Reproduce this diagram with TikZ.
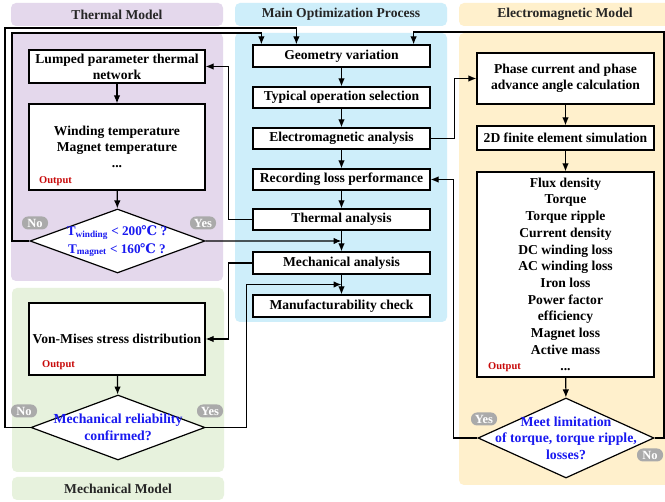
\documentclass[tikz,border=0pt]{standalone}
\usepackage{fontspec}
\setmainfont{Liberation Serif}
\newfontfamily\dejavu{DejaVu Serif}
\usetikzlibrary{shapes.geometric,arrows.meta,calc}
\definecolor{purpleP}{RGB}{228,216,236}
\definecolor{greenP}{RGB}{231,242,221}
\definecolor{blueP}{RGB}{206,238,250}
\definecolor{orangeP}{RGB}{255,240,204}
\definecolor{pillgray}{RGB}{170,170,170}
\definecolor{outred}{RGB}{200,10,10}
\definecolor{diablue}{RGB}{25,25,240}
\tikzset{
  panel/.style={rounded corners=5pt, draw=none},
  ttl/.style={font=\bfseries\fontsize{13.6}{15}\selectfont, text=black!85},
  box/.style={draw, fill=white, line width=1.2pt, align=center, inner sep=0pt,
    font=\bfseries\fontsize{13.6}{16}\selectfont, minimum width=177pt},
  dia/.style={draw, fill=white, line width=1.2pt, diamond, inner sep=0pt},
  diatext/.style={align=center, text=diablue, font=\bfseries\fontsize{13.8}{16.5}\selectfont},
  outlbl/.style={text=outred, font=\bfseries\fontsize{10.5}{11}\selectfont, anchor=west, inner sep=0pt},
  pill/.style={fill=pillgray, text=white, rounded corners=6pt, inner sep=0pt,
    minimum width=26pt, minimum height=13pt, font=\bfseries\fontsize{12.5}{12.5}\selectfont},
  arr/.style={line width=1.2pt, -{Latex[length=8pt,width=6.5pt]}},
  ln/.style={line width=1.2pt}
}
\begin{document}
\begin{tikzpicture}[x=1pt,y=-1pt]
\clip (0,0) rectangle (665,502);
\fill[white] (0,0) rectangle (665,502);
% panels
\fill[panel, purpleP] (11,3) rectangle (223,26);
\fill[panel, purpleP] (11,33) rectangle (223,281);
\fill[panel, greenP] (12,288) rectangle (224,472);
\fill[panel, greenP] (12,477) rectangle (224,500);
\fill[panel, blueP] (235,3) rectangle (447,26);
\fill[panel, blueP] (235,33) rectangle (447,322);
\fill[panel, orangeP] (459,3) rectangle (680,26);
\fill[panel, orangeP] (459,33) rectangle (680,485);
% titles
\node[ttl] (t1) at (117,14.5) {Thermal Model};
\node[ttl] (t2) at (341,14.5) {Main Optimization Process};
\node[ttl] (t3) at (565,14.5) {Electromagnetic Model};
\node[ttl] (t4) at (118,488.5) {Mechanical Model};
% main boxes
\node[box, minimum height=22pt] (geo) at (341.5,56) {Geometry variation};
\node[box, minimum height=21pt] (typ) at (341.5,97.5) {Typical operation selection};
\node[box, minimum height=21pt] (ema) at (341.5,138.5) {Electromagnetic analysis};
\node[box, minimum height=21pt] (rec) at (341.5,179.5) {Recording loss performance};
\node[box, minimum height=21pt] (tha) at (341.5,219.5) {Thermal analysis};
\node[box, minimum height=22pt] (mea) at (341.5,263) {Mechanical analysis};
\node[box, minimum height=22pt] (man) at (341.5,306) {Manufacturability check};
% thermal
\node[box, minimum width=176pt, minimum height=33pt] (lump) at (117,66.5) {Lumped parameter thermal\\network};
\node[box, minimum width=176pt, minimum height=86pt] (wt) at (117,147) {Winding temperature\\Magnet temperature\\...};
\node[outlbl] (wtout) at (39,181) {Output};
\node[dia, minimum width=175pt, minimum height=64pt] (tdia) at (117.5,241) {};
\node[diatext, font=\bfseries\fontsize{13.2}{18}\selectfont] (tdiat) at (117,241) {T\textsubscript{winding} < 200{\dejavu\kern-0.5pt℃} ?\\T\textsubscript{magnet} < 160{\dejavu\kern-0.5pt℃} ?};
\node[pill] (tno) at (35,223) {No};
\node[pill] (tyes) at (203,223) {Yes};
% mechanical
\node[box, minimum width=176pt, minimum height=72pt] (vm) at (117,339) {Von-Mises stress distribution};
\node[outlbl] (vmout) at (42,365) {Output};
\node[dia, minimum width=174pt, minimum height=65pt] (mdia) at (118,427.5) {};
\node[diatext] (mdiat) at (mdia) {Mechanical reliability\\confirmed?};
\node[pill] (mno) at (24,411) {No};
\node[pill] (myes) at (210,411) {Yes};
% electromagnetic
\node[box, minimum height=51pt] (phase) at (565.5,78.5) {Phase current and phase\\advance angle calculation};
\node[box, minimum height=24pt] (fe) at (565.5,138) {2D finite element simulation};
\node[box, minimum height=205pt] (big) at (565.5,274.5) {};
\node[align=center, font=\bfseries\fontsize{13.6}{16.7}\selectfont] (bigt) at (565.5,274.5)
  {Flux density\\Torque\\Torque ripple\\Current density\\DC winding loss\\AC winding loss\\Iron loss\\Power factor\\efficiency\\Magnet loss\\Active mass\\...};
\node[outlbl] (bigout) at (488,367) {Output};
\node[dia, minimum width=176pt, minimum height=80pt] (edia) at (566,438) {};
\node[diatext] (ediat) at (edia) {Meet limitation\\of torque, torque ripple,\\losses?};
\node[pill] (eyes) at (484,419) {Yes};
\node[pill] (eno) at (650,455) {No};
% corner coordinates
\coordinate (cTno) at (12,33);
\coordinate (cMno) at (5,28);
\coordinate (cEno) at (664,32);
\coordinate (jT) at ($(tha.south)!0.5!(mea.north)$);
\coordinate (jM) at ($(mea.south)!0.5!(man.north)$);
% main flow
\draw[arr] (geo) -- (typ);
\draw[arr] (typ) -- (ema);
\draw[arr] (ema) -- (rec);
\draw[arr] (rec) -- (tha);
\draw[arr] (tha) -- (mea);
\draw[arr] (mea) -- (man);
% thermal flow
\draw[arr] (lump) -- (wt);
\draw[arr] (wt) -- (tdia);
\draw[arr] (tha.west) -- ++(-24,0) |- (lump.east);
\draw[arr] (tdia.west) -| (cTno) -| ([xshift=9pt]geo.north west);
\draw[arr] (tdia.east) -- (jT);
% mechanical flow
\draw[arr] (vm) -- (mdia);
\draw[arr] (mea.west) -- ++(-24,0) |- (vm.east);
\draw[arr] (mdia.west) -| (cMno) -| ([xshift=44pt]geo.north west);
\draw[arr] (mdia.east) -- ++(41,0) |- (jM);
% electromagnetic flow
\draw[arr] (phase) -- (fe);
\draw[arr] (fe) -- (big);
\draw[arr] (big) -- (edia);
\draw[arr] (ema.east) -- ++(24,0) |- (phase.west);
\draw[arr] (edia.west) -- ++(-24,0) |- (rec.east);
\draw[arr] (edia.east) -| (cEno) -| ([xshift=-17pt]geo.north east);
\end{tikzpicture}
\end{document}
